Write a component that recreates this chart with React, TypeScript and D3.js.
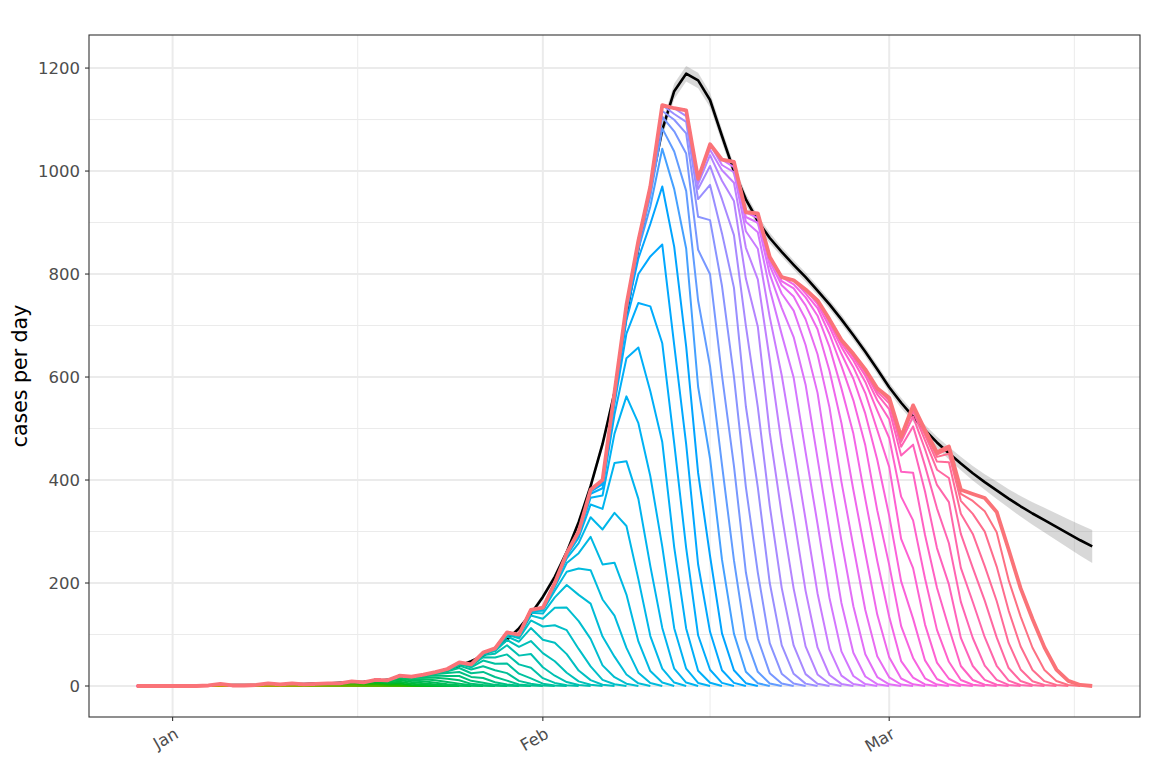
import * as d3 from 'd3';

// daily reported cases as of the last report date (thick line), from 29 Dec 2019
const finalReported = [
  0, 0, 0, 0, 0, 0, 1, 4, 1, 1,
  2, 5, 3, 5, 3, 4, 5, 5, 9, 7,
  12, 11, 20, 18, 22, 27, 33, 46, 42, 65,
  73, 104, 100, 148, 152, 200, 258, 300, 381, 400,
  570, 740, 865, 970, 1128, 1122, 1118, 985, 1052, 1022,
  1018, 920, 918, 833, 794, 788, 770, 749, 712, 672,
  645, 615, 578, 560, 484, 545, 497, 454, 465, 381,
  373, 365, 338, 265, 190, 130, 75, 32, 10, 2,
  0,
];

// share of a day's cases already reported after d days of delay
const delayComplete = [0, 0.006, 0.03, 0.1, 0.24, 0.42, 0.59, 0.76, 0.86, 0.925, 0.96, 0.98, 0.99, 1];

// nowcast estimate with its interval
const nowcast = [
  0, 0, 0, 0, 0, 1, 1, 1, 2, 2,
  2, 3, 3, 4, 4, 5, 5, 6, 7, 8,
  10, 12, 14, 17, 21, 26, 32, 39, 48, 59,
  73, 90, 112, 140, 173, 212, 260, 318, 388, 470,
  570, 720, 850, 965, 1080, 1155, 1189, 1176, 1138, 1068,
  1000, 945, 903, 870, 843, 818, 794, 768, 741, 712,
  681, 649, 615, 580, 550, 523, 497, 473, 452, 432,
  413, 396, 380, 364, 349, 335, 322, 309, 296, 283,
  271,
];
const nowcastLo = [
  0, 0, 0, 0, 0, 1, 1, 1, 2, 2,
  1, 2, 2, 3, 3, 4, 4, 5, 6, 7,
  9, 11, 13, 16, 19, 24, 30, 37, 45, 56,
  70, 86, 108, 135, 168, 206, 254, 311, 380, 461,
  560, 709, 838, 952, 1066, 1140, 1174, 1161, 1124, 1055,
  988, 934, 893, 860, 834, 809, 785, 759, 732, 703,
  672, 640, 606, 571, 540, 513, 487, 462, 440, 419,
  399, 381, 363, 346, 329, 313, 298, 283, 268, 253,
  239,
];
const nowcastHi = [
  0, 0, 0, 0, 0, 1, 1, 1, 2, 2,
  3, 4, 4, 5, 5, 6, 6, 7, 8, 9,
  11, 13, 15, 18, 23, 28, 34, 41, 51, 62,
  76, 94, 116, 145, 178, 218, 266, 325, 396, 479,
  580, 731, 862, 978, 1094, 1170, 1204, 1191, 1152, 1081,
  1012, 956, 913, 880, 852, 827, 803, 777, 750, 721,
  690, 658, 624, 589, 560, 533, 507, 484, 464, 445,
  427, 411, 397, 382, 369, 357, 346, 335, 324, 313,
  303,
];

const yTicks = [0, 200, 400, 600, 800, 1000, 1200];
const yMinor = [100, 300, 500, 700, 900, 1100];
const monthTicks = [
  { date: new Date(2020, 0, 1), label: 'Jan' },
  { date: new Date(2020, 1, 1), label: 'Feb' },
  { date: new Date(2020, 2, 1), label: 'Mar' },
];
const monthMinor = [new Date(2020, 0, 16, 12), new Date(2020, 1, 15), new Date(2020, 2, 16, 12)];

const start = new Date(2019, 11, 29);
const dates = finalReported.map((_, i) => d3.timeDay.offset(start, i));

// R's hcl() (polar LUV) so the palette matches ggplot's hue scale
function hclR(h: number, c: number, l: number) {
  const hr = (h * Math.PI) / 180;
  const U = c * Math.cos(hr);
  const V = c * Math.sin(hr);
  const Xn = 95.047, Yn = 100, Zn = 108.883;
  const den = Xn + 15 * Yn + 3 * Zn;
  const un = (4 * Xn) / den, vn = (9 * Yn) / den;
  const Y = l > 8 ? Yn * Math.pow((l + 16) / 116, 3) : (Yn * l) / 903.3;
  const u = U / (13 * l) + un;
  const v = V / (13 * l) + vn;
  const X = (9 * Y * u) / (4 * v);
  const Z = ((9 * Y) / v - X - 15 * Y) / 3;
  const x = X / 100, y = Y / 100, z = Z / 100;
  const lin = [
    3.240479 * x - 1.53715 * y - 0.498535 * z,
    -0.969256 * x + 1.875992 * y + 0.041556 * z,
    0.055648 * x - 0.204043 * y + 1.057311 * z,
  ];
  const g = lin.map((t) => {
    const s = t <= 0.0031308 ? 12.92 * t : 1.055 * Math.pow(t, 1 / 2.4) - 0.055;
    return Math.round(Math.max(0, Math.min(1, s)) * 255);
  });
  return d3.rgb(g[0], g[1], g[2]).formatHex();
}

const W = 1152;
const H = 768;
const panel = { left: 89, right: 1140, top: 35, bottom: 717 };

const App = () => {
  const n = finalReported.length;
  const last = n - 1;
  const frac = (d: number) => (d >= delayComplete.length ? 1 : delayComplete[d]);

  // one line per report date: what was known on that day
  const snapshots = d3.range(n).map((s) => {
    const pts = d3.range(s + 1).map((t) => {
      const fEnd = frac(last - t);
      const val = s === last ? finalReported[t] : fEnd > 0 ? (finalReported[t] * frac(s - t)) / fEnd : 0;
      return { date: dates[t], value: val };
    });
    return { s, pts, color: hclR(15 + (360 * s) / n, 100, 65) };
  });

  const t0 = dates[0].getTime();
  const t1 = dates[last].getTime();
  const xPad = (t1 - t0) * 0.05;
  const x = d3.scaleTime().domain([new Date(t0 - xPad), new Date(t1 + xPad)]).range([panel.left, panel.right]);

  const yMax = d3.max(nowcastHi) as number;
  const yPad = yMax * 0.05;
  const y = d3.scaleLinear().domain([-yPad, yMax + yPad]).range([panel.bottom, panel.top]);

  const line = d3
    .line<{ date: Date; value: number }>()
    .x((d) => x(d.date))
    .y((d) => y(d.value));

  const nowPts = dates.map((d, i) => ({ date: d, value: nowcast[i] }));
  const ribbon = d3
    .area<number>()
    .x((i) => x(dates[i]))
    .y0((i) => y(nowcastLo[i]))
    .y1((i) => y(nowcastHi[i]));

  const font = '"DejaVu Sans", sans-serif';

  return (
    <svg width={W} height={H} style={{ position: 'absolute', left: 0, top: 0, background: '#fff' }}>
      <rect x={0} y={0} width={W} height={H} fill="#fff" />
      <clipPath id="panelClip">
        <rect x={panel.left} y={panel.top} width={panel.right - panel.left} height={panel.bottom - panel.top} />
      </clipPath>
      {/* grid */}
      <g>
        {yMinor.map((v) => (
          <line key={'ym' + v} x1={panel.left} x2={panel.right} y1={y(v)} y2={y(v)} stroke="#ebebeb" strokeWidth={1} />
        ))}
        {monthMinor.map((d, i) => (
          <line key={'xm' + i} x1={x(d)} x2={x(d)} y1={panel.top} y2={panel.bottom} stroke="#ebebeb" strokeWidth={1} />
        ))}
        {yTicks.map((v) => (
          <line key={'y' + v} x1={panel.left} x2={panel.right} y1={y(v)} y2={y(v)} stroke="#ebebeb" strokeWidth={2} />
        ))}
        {monthTicks.map((m) => (
          <line key={m.label} x1={x(m.date)} x2={x(m.date)} y1={panel.top} y2={panel.bottom} stroke="#ebebeb" strokeWidth={2} />
        ))}
      </g>
      <g clipPath="url(#panelClip)">
        <path d={ribbon(d3.range(n)) as string} fill="#7f7f7f" fillOpacity={0.3} />
        <path d={line(nowPts) as string} fill="none" stroke="#000" strokeWidth={2.6} strokeLinejoin="round" />
        {snapshots.map((sn) => (
          <path
            key={sn.s}
            d={line(sn.pts) as string}
            fill="none"
            stroke={sn.color}
            strokeWidth={sn.s === last ? 3.8 : 2}
            strokeLinejoin="round"
          />
        ))}
      </g>
      <rect
        x={panel.left}
        y={panel.top}
        width={panel.right - panel.left}
        height={panel.bottom - panel.top}
        fill="none"
        stroke="#333"
        strokeWidth={1.1}
      />
      {/* y axis */}
      <g fontFamily={font} fontSize={16.5} fill="#4d4d4d">
        {yTicks.map((v) => (
          <g key={v}>
            <line x1={panel.left - 4} x2={panel.left} y1={y(v)} y2={y(v)} stroke="#333" strokeWidth={1.1} />
            <text x={panel.left - 9} y={y(v)} dy="0.36em" textAnchor="end">
              {v}
            </text>
          </g>
        ))}
      </g>
      {/* x axis */}
      <g fontFamily={font} fontSize={16.5} fill="#4d4d4d">
        {monthTicks.map((m) => (
          <g key={m.label}>
            <line x1={x(m.date)} x2={x(m.date)} y1={panel.bottom} y2={panel.bottom + 4} stroke="#333" strokeWidth={1.1} />
            <text transform={`translate(${x(m.date) + 7},${panel.bottom + 20}) rotate(-30)`} textAnchor="end">
              {m.label}
            </text>
          </g>
        ))}
      </g>
      <text
        transform={`translate(27,${(panel.top + panel.bottom) / 2}) rotate(-90)`}
        textAnchor="middle"
        fontFamily={font}
        fontSize={20.5}
        fill="#000"
      >
        cases per day
      </text>
    </svg>
  );
};

export default App;
